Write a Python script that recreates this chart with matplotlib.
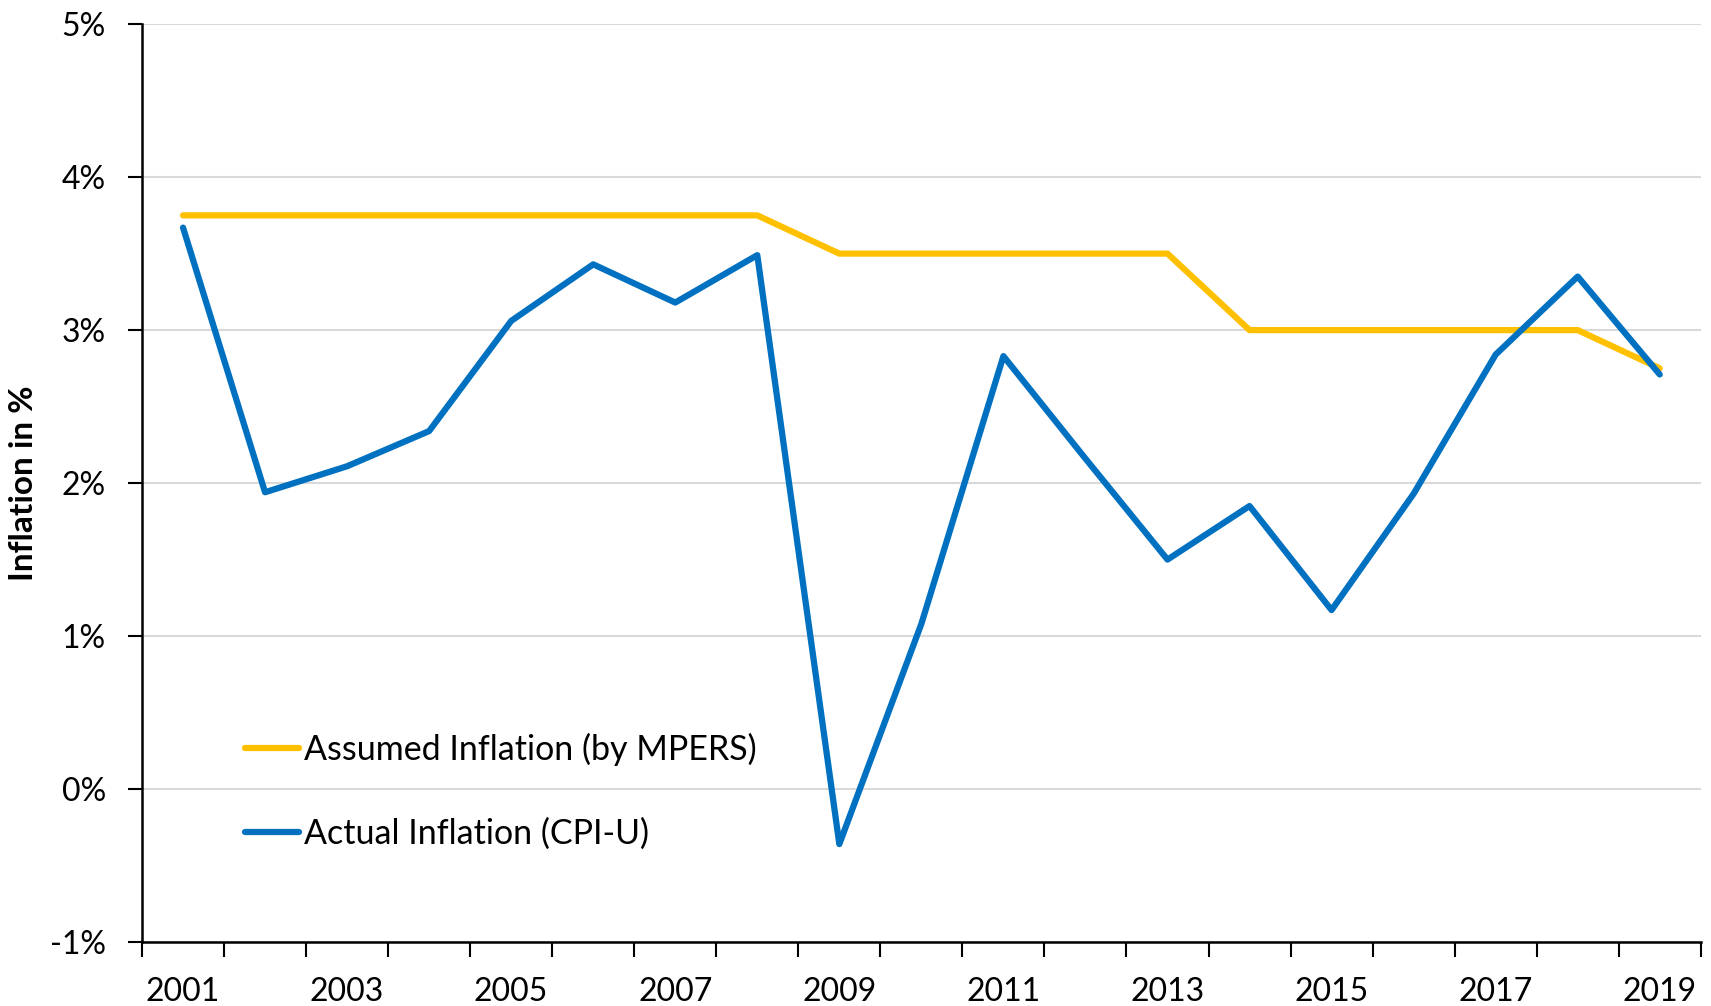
import numpy as np
import matplotlib.pyplot as plt
from matplotlib.ticker import FixedLocator, FuncFormatter

years = list(range(2001, 2020))
assumed = [3.75, 3.75, 3.75, 3.75, 3.75, 3.75, 3.75, 3.75,
           3.5, 3.5, 3.5, 3.5, 3.5,
           3.0, 3.0, 3.0, 3.0, 3.0, 2.75]
actual = [3.67, 1.94, 2.11, 2.34, 3.06, 3.43, 3.18, 3.49,
          -0.36, 1.08, 2.83, 2.16, 1.50, 1.85, 1.17, 1.93, 2.84, 3.35, 2.71]
y_ticks = [-1, 0, 1, 2, 3, 4, 5]

plt.rcParams['font.family'] = ['Lato', 'DejaVu Sans']

fig = plt.figure(figsize=(17.11, 10.06), dpi=100)
ax = fig.add_axes([0.083, 0.0636, 0.911, 0.9124])

x = np.arange(len(years))
ax.plot(x, assumed, color="#FFC000", lw=4.5, solid_capstyle="round",
        solid_joinstyle="round", label="Assumed Inflation (by MPERS)", zorder=3)
ax.plot(x, actual, color="#0070C0", lw=4.5, solid_capstyle="round",
        solid_joinstyle="round", label="Actual Inflation (CPI-U)", zorder=4)

ax.set_xlim(-0.5, len(years) - 0.5)
ax.set_ylim(-1, 5)

# y axis
ax.set_yticks(y_ticks)
ax.yaxis.set_major_formatter(FuncFormatter(lambda v, p: f"{int(v)}%"))
ax.tick_params(axis="y", length=10, width=1.5, pad=16, labelsize=23)
ax.grid(axis="y", color="#D9D9D9", lw=1.5, zorder=0)
ax.set_axisbelow(True)

# x axis: labels every two years at points, ticks at category boundaries
ax.set_xticks(x[::2])
ax.set_xticklabels([str(yr) for yr in years[::2]])
ax.xaxis.set_minor_locator(FixedLocator(np.arange(-0.5, len(years), 1)))
ax.tick_params(axis="x", which="major", length=0, pad=25, labelsize=23)
ax.tick_params(axis="x", which="minor", length=11, width=1.5)

for side in ["top", "right"]:
    ax.spines[side].set_visible(False)
for side in ["left", "bottom"]:
    ax.spines[side].set_linewidth(1.8)

ax.set_ylabel("Inflation in %", fontsize=24, fontweight="bold")
ax.yaxis.set_label_coords(-0.067, 0.5)

ax.legend(loc="lower left", bbox_to_anchor=(0.066, 0.1), frameon=False,
          fontsize=24.5, handlelength=1.6, handletextpad=0.15,
          labelspacing=1.52, borderpad=0, borderaxespad=0)

fig.savefig("out.png", dpi=100)
